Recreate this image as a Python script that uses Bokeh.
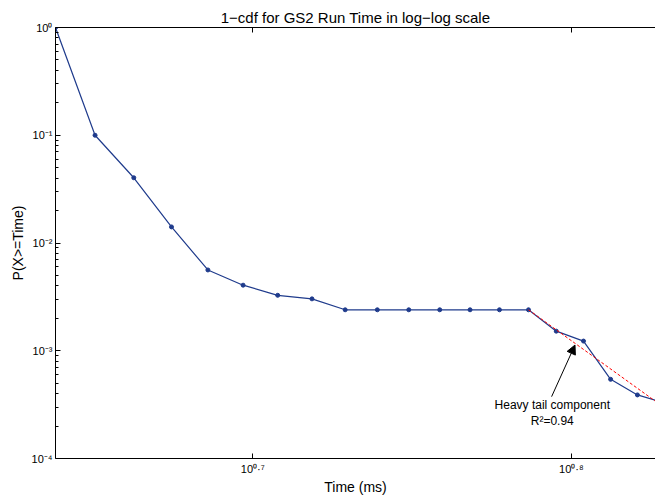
from bokeh.plotting import figure
from bokeh.models import (Label, Arrow, NormalHead, LogAxis, FixedTicker, Range1d,
                          CustomJSTickFormatter)
from bokeh.embed import file_html
from bokeh.resources import INLINE

# ---- data ----
time_ms = [4.346, 4.472, 4.599, 4.726, 4.852, 4.977, 5.103, 5.231, 5.358, 5.484,
           5.610, 5.737, 5.864, 5.990, 6.117, 6.241, 6.365, 6.491, 6.618, 6.744]
prob_ge = [1.0, 0.1, 0.0403, 0.0141, 0.00562, 0.00406, 0.00327, 0.00303, 0.0024, 0.0024,
           0.0024, 0.0024, 0.0024, 0.0024, 0.0024, 0.00152, 0.00123, 0.000543, 0.000389, 0.00033]
fit_x = [6.117, 6.744]
fit_y = [0.0024, 0.0003]
x_tick_values = [10 ** 0.7, 10 ** 0.8]
x_tick_labels = ["10\u2070\u00b7\u2077", "10\u2070\u00b7\u2078"]
y_tick_values = [1.0, 0.1, 0.01, 0.001, 0.0001]
y_tick_labels = ["10\u2070", "10\u207b\u00b9", "10\u207b\u00b2", "10\u207b\u00b3", "10\u207b\u2074"]
title_text = "1\u2212cdf for GS2 Run Time in log\u2212log scale"
x_label_text = "Time (ms)"
y_label_text = "P(X>=Time)"
annot_line1 = "Heavy tail component"
annot_line2 = "R\u00b2=0.94"

FONT = "Liberation Sans"
BLUE = "#1f3b8c"

y_minor = [m * t for t in y_tick_values[1:] for m in range(2, 10)]

p = figure(width=655, height=497, x_axis_type="log", y_axis_type="log",
           x_range=Range1d(4.346, 6.705), y_range=Range1d(1e-4, 1),
           output_backend="svg", toolbar_location=None,
           min_border_left=55, min_border_right=0, min_border_top=27, min_border_bottom=38)
p.outline_line_color = None
p.xgrid.visible = False
p.ygrid.visible = False
p.background_fill_color = "white"
p.border_fill_color = "white"

p.title.text = title_text
p.title.align = "center"
p.title.text_font = FONT
p.title.text_font_size = "15px"
p.title.text_font_style = "normal"
p.title.text_color = "black"
p.title.standoff = 4


def style_axis(ax, ticker):
    ax.ticker = ticker
    ax.axis_line_color = "black"
    ax.axis_line_width = 1
    ax.major_tick_in = 5
    ax.major_tick_out = 0
    ax.minor_tick_in = 3
    ax.minor_tick_out = 0
    ax.major_tick_line_color = "black"
    ax.minor_tick_line_color = "black"
    ax.major_label_text_font = FONT
    ax.major_label_text_font_size = "11px"
    ax.major_label_text_color = "black"
    ax.axis_label_text_font = FONT
    ax.axis_label_text_font_size = "14px"
    ax.axis_label_text_font_style = "normal"
    ax.axis_label_text_color = "black"


style_axis(p.xaxis[0], FixedTicker(ticks=x_tick_values, minor_ticks=[]))
p.xaxis[0].major_label_overrides = {v: s for v, s in zip(x_tick_values, x_tick_labels)}
p.xaxis[0].major_label_standoff = 4
p.xaxis[0].axis_label = x_label_text
p.xaxis[0].axis_label_standoff = 1

style_axis(p.yaxis[0], FixedTicker(ticks=y_tick_values, minor_ticks=y_minor))
p.yaxis[0].major_label_overrides = {v: s for v, s in zip(y_tick_values, y_tick_labels)}
p.yaxis[0].major_label_standoff = 3
p.yaxis[0].axis_label = y_label_text
p.yaxis[0].axis_label_standoff = 3

top = LogAxis()
style_axis(top, FixedTicker(ticks=x_tick_values, minor_ticks=[]))
top.formatter = CustomJSTickFormatter(code="return ''")
top.major_label_standoff = 0
p.add_layout(top, "above")

# data
p.line(time_ms, prob_ge, line_color=BLUE, line_width=1.2)
p.scatter(time_ms, prob_ge, size=4, fill_color=BLUE, line_color=BLUE)
p.line(fit_x, fit_y, line_color="red", line_dash="3 2", line_width=1)

# annotation
p.add_layout(Arrow(end=NormalHead(size=9, fill_color="black", line_color="black"),
                   x_start=6.220, y_start=0.000375, x_end=6.326, y_end=0.00113,
                   line_color="black", line_width=1))
p.add_layout(Label(x=6.223, y=0.000311, text=annot_line1, text_font=FONT,
                   text_font_size="12px", text_align="center", text_baseline="alphabetic",
                   text_color="black"))
p.add_layout(Label(x=6.223, y=0.000221, text=annot_line2, text_font=FONT,
                   text_font_size="12px", text_align="center", text_baseline="alphabetic",
                   text_color="black"))

open("out.html", "w").write(file_html(p, INLINE))
